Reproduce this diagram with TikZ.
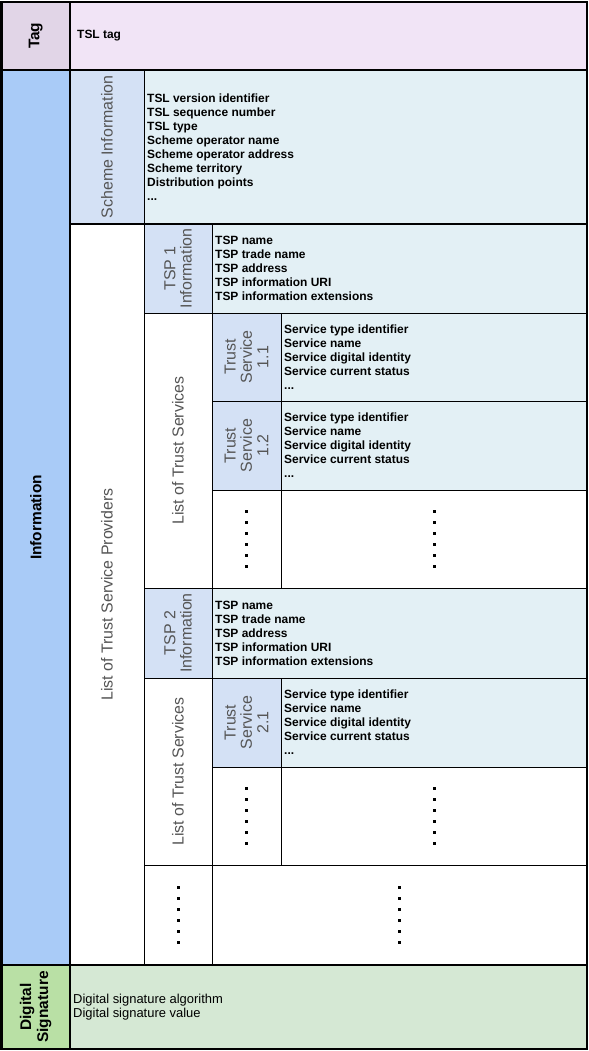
\documentclass[tikz,border=0pt]{standalone}
\usepackage{fontspec}
\setmainfont{Liberation Sans}
\usetikzlibrary{fit,calc}
\definecolor{taglab}{HTML}{E1D5E7}
\definecolor{tagcon}{HTML}{F1E4F6}
\definecolor{infolab}{HTML}{A9CBF7}
\definecolor{sublab}{HTML}{D4E1F5}
\definecolor{subcon}{HTML}{E3F0F5}
\definecolor{dslab}{HTML}{B9E0A5}
\definecolor{dscon}{HTML}{D5E8D4}
\definecolor{labgray}{HTML}{555555}
\newcommand\cellbox[6]{\node[cellst, fill=#6, fit={(#2,#3) (#4,#5)}] (#1) {};}
\newcommand\dotcol[1]{\foreach \k in {-2.5,-1.5,...,2.5}{\fill ($(#1.center)+(-1.5,\k*11-1.7)$) rectangle ++(3,3.4);}}
\begin{document}
\begin{tikzpicture}[x=1bp,y=-1bp,
  cellst/.style={draw=black, line width=0.9bp, inner sep=0pt, outer sep=0pt},
  majorline/.style={line width=2bp},
  boldlab/.style={rotate=90, align=center, inner sep=0pt, font=\bfseries\fontsize{15.5}{17}\selectfont},
  graylab/.style={rotate=90, align=center, inner sep=0pt, text=labgray, font=\fontsize{16}{16.5}\selectfont},
  listtxt/.style={anchor=west, align=left, inner sep=0pt, font=\bfseries\fontsize{12}{14}\selectfont},
  plaintxt/.style={anchor=west, align=left, inner sep=0pt, font=\fontsize{13}{14}\selectfont}]
\useasboundingbox (0,0) rectangle (589,1051);
% cells
\cellbox{tagL}{1.5}{1.5}{70}{70}{taglab}
\cellbox{tagC}{70}{1.5}{587}{70}{tagcon}
\cellbox{infoL}{1.5}{70}{70}{965}{infolab}
\cellbox{schL}{70}{70}{144}{224}{sublab}
\cellbox{schC}{144}{70}{587}{224}{subcon}
\cellbox{tspL}{70}{224}{144}{965}{white}
\cellbox{tspAL}{144}{224}{212}{313}{sublab}
\cellbox{tspAC}{212}{224}{587}{313}{subcon}
\cellbox{ltsA}{144}{313}{212}{588}{white}
\cellbox{tsAAL}{212}{313}{281}{401}{sublab}
\cellbox{tsAAC}{281}{313}{587}{401}{subcon}
\cellbox{tsABL}{212}{401}{281}{490}{sublab}
\cellbox{tsABC}{281}{401}{587}{490}{subcon}
\cellbox{dAL}{212}{490}{281}{588}{white}
\cellbox{dAC}{281}{490}{587}{588}{white}
\cellbox{tspBL}{144}{588}{212}{678}{sublab}
\cellbox{tspBC}{212}{588}{587}{678}{subcon}
\cellbox{ltsB}{144}{678}{212}{865}{white}
\cellbox{tsBAL}{212}{678}{281}{767}{sublab}
\cellbox{tsBAC}{281}{678}{587}{767}{subcon}
\cellbox{dBL}{212}{767}{281}{865}{white}
\cellbox{dBC}{281}{767}{587}{865}{white}
\cellbox{dCL}{144}{865}{212}{965}{white}
\cellbox{dCC}{212}{865}{587}{965}{white}
\cellbox{dsL}{1.5}{965}{70}{1049}{dslab}
\cellbox{dsC}{70}{965}{587}{1049}{dscon}
% major lines
\draw[majorline] (tagL.north west) rectangle (dsC.south east);
\draw[majorline] (tagL.north east) -- (dsL.south east);
\draw[majorline] (tagL.south west) -- (tagC.south east);
\draw[majorline] (schL.south west) -- (schC.south east);
\draw[majorline] (dsL.north west) -- (dsC.north east);
% labels
\node[boldlab] (tTag) at (tagL.center) {Tag};
\node[boldlab] (tInfo) at (infoL.center) {Information};
\node[boldlab] (tDS) at (dsL.center) {Digital\\Signature};
\node[graylab] (tSch) at (schL.center) {Scheme Information};
\node[graylab] (tTSP) at (tspL.center) {List of Trust Service Providers};
\node[graylab] (tTspA) at (tspAL.center) {TSP 1\\Information};
\node[graylab] (tTspB) at (tspBL.center) {TSP 2\\Information};
\node[graylab] (tLtsA) at (ltsA.center) {List of Trust Services};
\node[graylab] (tLtsB) at (ltsB.center) {List of Trust Services};
\node[graylab] (tTsAA) at (tsAAL.center) {Trust\\Service\\1.1};
\node[graylab] (tTsAB) at (tsABL.center) {Trust\\Service\\1.2};
\node[graylab] (tTsBA) at (tsBAL.center) {Trust\\Service\\2.1};
% contents
\node[listtxt] (cTag) at ([xshift=7bp]tagC.west) {TSL tag};
\node[listtxt] (cSch) at ([xshift=3bp]schC.west) {TSL version identifier\\TSL sequence number\\TSL type\\Scheme operator name\\Scheme operator address\\Scheme territory\\Distribution points\\...};
\node[listtxt] (cTspA) at ([xshift=3bp]tspAC.west) {TSP name\\TSP trade name\\TSP address\\TSP information URI\\TSP information extensions};
\node[listtxt] (cTspB) at ([xshift=3bp]tspBC.west) {TSP name\\TSP trade name\\TSP address\\TSP information URI\\TSP information extensions};
\node[listtxt] (cTsAA) at ([xshift=3bp]tsAAC.west) {Service type identifier\\Service name\\Service digital identity\\Service current status\\...};
\node[listtxt] (cTsAB) at ([xshift=3bp]tsABC.west) {Service type identifier\\Service name\\Service digital identity\\Service current status\\...};
\node[listtxt] (cTsBA) at ([xshift=3bp]tsBAC.west) {Service type identifier\\Service name\\Service digital identity\\Service current status\\...};
\node[plaintxt] (cDS) at ([xshift=3bp]dsC.west) {Digital signature algorithm\\Digital signature value};
% dots
\dotcol{dAL}
\dotcol{dAC}
\dotcol{dBL}
\dotcol{dBC}
\dotcol{dCL}
\dotcol{dCC}
\end{tikzpicture}
\end{document}
